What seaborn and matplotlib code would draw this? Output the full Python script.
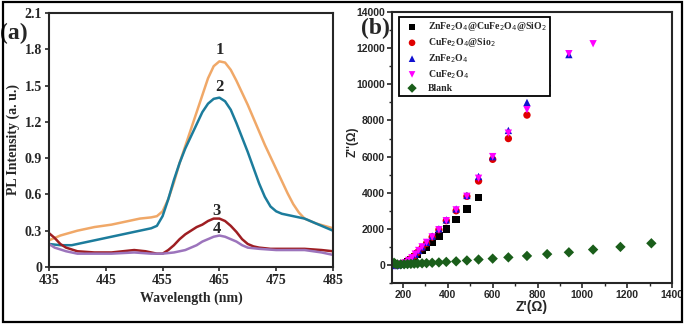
# PL spectra and Nyquist plots

import pandas as pd
import numpy as np

import matplotlib
matplotlib.use("Agg")
import matplotlib.pyplot as plt
from matplotlib.patches import Rectangle
from matplotlib.ticker import MultipleLocator
import seaborn as sns
sns.set_style("ticks")

serif = ['Liberation Serif', 'DejaVu Serif']
sans = ['Liberation Sans', 'DejaVu Sans']

# Panel (a) data: PL intensity vs wavelength
wl_1 = [435, 437, 440, 443, 446, 449, 451, 453, 454, 455, 456, 457, 458, 459, 460, 461, 462, 463, 464, 465, 466, 467, 468, 469, 470, 471, 472, 473, 474, 475, 476, 477, 478, 479, 480, 482, 485]
pl_1 = [0.22, 0.26, 0.30, 0.33, 0.35, 0.38, 0.40, 0.41, 0.42, 0.46, 0.56, 0.70, 0.86, 1.00, 1.14, 1.28, 1.42, 1.56, 1.66, 1.70, 1.69, 1.63, 1.54, 1.44, 1.34, 1.23, 1.12, 1.01, 0.91, 0.81, 0.71, 0.61, 0.52, 0.45, 0.40, 0.36, 0.32]
wl_2 = [435, 437, 439, 442, 445, 448, 451, 453, 454, 455, 456, 457, 458, 459, 460, 461, 462, 463, 464, 465, 466, 467, 468, 469, 470, 471, 472, 473, 474, 475, 476, 478, 480, 482, 485]
pl_2 = [0.19, 0.18, 0.18, 0.21, 0.24, 0.27, 0.30, 0.32, 0.34, 0.42, 0.56, 0.72, 0.86, 0.98, 1.08, 1.18, 1.28, 1.35, 1.39, 1.40, 1.37, 1.30, 1.19, 1.07, 0.95, 0.82, 0.69, 0.58, 0.50, 0.46, 0.44, 0.42, 0.40, 0.36, 0.30]
wl_3 = [435, 436, 437, 438, 440, 443, 446, 450, 452, 454, 455, 456, 457, 458, 459, 460, 461, 462, 463, 464, 465, 466, 467, 468, 469, 470, 471, 472, 474, 477, 480, 483, 485]
pl_3 = [0.28, 0.24, 0.19, 0.16, 0.13, 0.12, 0.12, 0.14, 0.13, 0.11, 0.11, 0.14, 0.18, 0.23, 0.27, 0.30, 0.33, 0.35, 0.38, 0.40, 0.40, 0.38, 0.34, 0.29, 0.23, 0.19, 0.17, 0.16, 0.15, 0.15, 0.15, 0.14, 0.13]
wl_4 = [435, 436, 438, 440, 443, 446, 450, 453, 455, 457, 459, 460, 461, 462, 463, 464, 465, 466, 467, 468, 469, 470, 472, 475, 478, 480, 483, 485]
pl_4 = [0.19, 0.16, 0.13, 0.11, 0.11, 0.11, 0.12, 0.11, 0.11, 0.12, 0.14, 0.16, 0.18, 0.21, 0.23, 0.25, 0.26, 0.25, 0.23, 0.21, 0.18, 0.16, 0.15, 0.14, 0.14, 0.14, 0.12, 0.10]
curve_names = ['1', '2', '3', '4']
curve_colors = ['#F0A868', '#1C7C9C', '#9E1E22', '#9C74BC']

# Panel (b) data: Nyquist plots
z_re_sq = [165, 175, 190, 205, 220, 235, 250, 265, 285, 305, 330, 360, 393, 437, 485, 537]
z_im_sq = [0, 10, 30, 80, 180, 300, 450, 600, 800, 1000, 1250, 1600, 2000, 2500, 3100, 3750]
z_re_ci = [165, 175, 190, 205, 220, 235, 250, 265, 285, 305, 330, 360, 393, 437, 485, 537, 600, 670, 753]
z_im_ci = [0, 10, 40, 100, 200, 350, 500, 700, 950, 1200, 1550, 1950, 2450, 3000, 3800, 4650, 5850, 7000, 8300]
z_re_tu = [165, 180, 195, 210, 225, 240, 255, 270, 285, 305, 330, 360, 393, 437, 485, 537, 600, 670, 753, 843, 940]
z_im_tu = [-30, 0, 50, 120, 250, 400, 600, 800, 1000, 1250, 1600, 2000, 2500, 3100, 3850, 4900, 6000, 7450, 9000, 10100, 11650]
z_re_td = [165, 180, 195, 210, 225, 240, 255, 270, 285, 305, 330, 360, 393, 437, 485, 537, 600, 670, 753, 843, 940, 1048]
z_im_td = [-50, 0, 50, 120, 250, 400, 600, 800, 1000, 1250, 1550, 1950, 2450, 3050, 3800, 4800, 6000, 7300, 8600, 10300, 11700, 12250]
z_re_bl = [160, 165, 175, 190, 205, 220, 235, 250, 265, 285, 305, 330, 360, 393, 437, 485, 537, 600, 670, 753, 843, 940, 1048, 1170, 1308]
z_im_bl = [120, 60, 30, 35, 40, 50, 60, 70, 80, 90, 100, 120, 140, 170, 200, 250, 300, 350, 420, 500, 600, 700, 850, 1000, 1200]
sample_names = [r'ZnFe$_2$O$_4$@CuFe$_2$O$_4$@SiO$_2$', r'CuFe$_2$O$_4$@Sio$_2$',
                r'ZnFe$_2$O$_4$', r'CuFe$_2$O$_4$', 'Blank']
sample_colors = ['#000000', '#E00000', '#1010D0', '#FF00FF', '#1A5E1A']
sample_markers = ['s', 'o', '^', 'v', 'D']

df_pl = pd.concat([
    pd.DataFrame({'wavelength': w, 'intensity': p, 'curve': n})
    for w, p, n in zip([wl_1, wl_2, wl_3, wl_4], [pl_1, pl_2, pl_3, pl_4], curve_names)
])

fig = plt.figure(figsize=(6.85, 3.24), dpi=100)

# Outer frame
fig.patches.append(Rectangle((0.004, 0.007), 0.992, 0.987, transform=fig.transFigure,
                             fill=False, lw=1.6, ec='black'))

# ---- Panel (a)
ax1 = fig.add_axes([0.0715, 0.176, 0.4146, 0.784])
sns.lineplot(data=df_pl, x='wavelength', y='intensity', hue='curve', palette=curve_colors,
             sort=False, lw=1.8, legend=False, ax=ax1)
ax1.set_xlim(435, 485)
ax1.set_ylim(0, 2.1)
ax1.set_xticks([435, 445, 455, 465, 475, 485])
ax1.set_yticks([0, 0.3, 0.6, 0.9, 1.2, 1.5, 1.8, 2.1])
ax1.set_yticklabels(['0', '0.3', '0.6', '0.9', '1.2', '1.5', '1.8', '2.1'])
ax1.set_xlabel('Wavelength (nm)', fontsize=10, fontweight='bold', family=serif, labelpad=3)
ax1.set_ylabel('PL Intensity (a. u.)', fontsize=10, fontweight='bold', family=serif, labelpad=3)
for lab in ax1.get_xticklabels() + ax1.get_yticklabels():
    lab.set_family(serif)
    lab.set_fontweight('bold')
    lab.set_fontsize(10)
ax1.tick_params(direction='out', length=3, width=1.2, pad=2)
for sp in ax1.spines.values():
    sp.set_linewidth(1.5)
for n, x, y in zip(curve_names, [465, 465, 464.5, 464.5], [1.79, 1.49, 0.46, 0.31]):
    ax1.text(x, y, n, fontsize=12, fontweight='bold', family=serif, ha='center', va='center')
ax1.text(-0.123, 0.92, '(a)', transform=ax1.transAxes, fontsize=17, fontweight='bold',
         family=serif, ha='center', va='center')

# ---- Panel (b)
ax2 = fig.add_axes([0.572, 0.1265, 0.409, 0.836])
for zr, zi, n, c, m in zip([z_re_sq, z_re_ci, z_re_tu, z_re_td, z_re_bl],
                           [z_im_sq, z_im_ci, z_im_tu, z_im_td, z_im_bl],
                           sample_names, sample_colors, sample_markers):
    sns.scatterplot(x=zr, y=zi, color=c, marker=m, s=28, edgecolor='none', label=n, ax=ax2)
ax2.set_xlim(150, 1400)
ax2.set_ylim(-1000, 14000)
ax2.xaxis.set_major_locator(MultipleLocator(200))
ax2.xaxis.set_minor_locator(MultipleLocator(100))
ax2.yaxis.set_major_locator(MultipleLocator(2000))
ax2.yaxis.set_minor_locator(MultipleLocator(1000))
ax2.set_xlabel("Z'(Ω)", fontsize=10, fontweight='bold', family=sans, labelpad=0)
ax2.set_ylabel("Z''(Ω)", fontsize=8.5, fontweight='bold', family=sans)
ax2.yaxis.set_label_coords(-0.12, 0.52)
for lab in ax2.get_xticklabels() + ax2.get_yticklabels():
    lab.set_family(sans)
    lab.set_fontweight('bold')
    lab.set_fontsize(7.5)
ax2.tick_params(which='major', direction='out', length=3.5, width=1.2, pad=1.5)
ax2.tick_params(which='minor', direction='out', length=2, width=1)
for sp in ax2.spines.values():
    sp.set_linewidth(1.5)
leg = ax2.legend(loc='upper left', bbox_to_anchor=(0.008, 1.0), fancybox=False, framealpha=1,
                 edgecolor='black', borderpad=0.35, handletextpad=0.6, labelspacing=0.3,
                 markerscale=0.9, prop={'family': serif, 'weight': 'bold', 'size': 7})
leg.get_frame().set_linewidth(1.3)
ax2.text(-0.057, 0.94, '(b)', transform=ax2.transAxes, fontsize=17, fontweight='bold',
         family=serif, ha='center', va='center')

fig.savefig('out.png', dpi=100)
